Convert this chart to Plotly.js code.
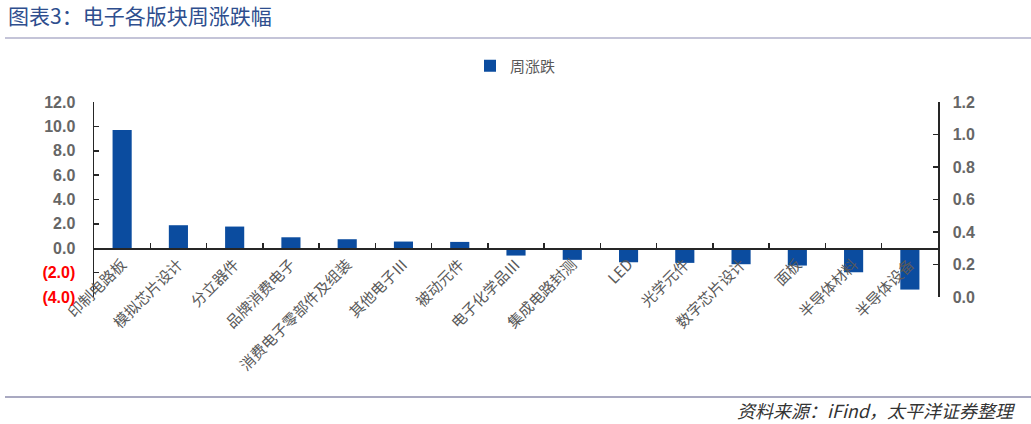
<!DOCTYPE html>
<html>
<head>
<meta charset="utf-8">
<script src="https://cdn.plot.ly/plotly-3.0.1.min.js"></script>
<style>html,body{margin:0;padding:0;background:#fff;}#chart{width:1031px;height:424px;}</style>
</head>
<body>
<div id="chart"></div>
<script>
const categories = ["印制电路板","模拟芯片设计","分立器件","品牌消费电子","消费电子零部件及组装","其他电子Ⅲ","被动元件","电子化学品Ⅲ","集成电路封测","LED","光学元件","数字芯片设计","面板","半导体材料","半导体设备"];
const weeklyChange = [9.7, 1.89, 1.78, 0.90, 0.74, 0.55, 0.52, -0.60, -0.95, -1.15, -1.20, -1.31, -1.42, -1.97, -3.39];
const leftTickVals = [-4, -2, 0, 2, 4, 6, 8, 10, 12];
const leftTickText = ['<span style="color:#ff0000">(4.0)</span>','<span style="color:#ff0000">(2.0)</span>','0.0','2.0','4.0','6.0','8.0','10.0','12.0'];
const seriesName = "周涨跌";
const titleText = "图表3：电子各版块周涨跌幅";
const sourceText = "资料来源：iFind，太平洋证券整理";

const L = 94, R = 93, T = 102, B = 127, W = 1031, H = 424;
const pw = W - L - R, ph = H - T - B;
const px = x => (x - L) / pw;
const py = y => (H - B - y) / ph;

const axisFont = {size: 16, color: '#666666', family: '"Liberation Sans", Arial, sans-serif', weight: 'bold'};

const data = [
  {type: 'bar', x: categories, y: weeklyChange, name: seriesName, marker: {color: '#0b4c9f'}, showlegend: true},
  {type: 'scatter', x: [], y: [], yaxis: 'y2', showlegend: false, hoverinfo: 'skip'}
];

const layout = {
  width: W, height: H,
  margin: {l: L, r: R, t: T, b: B, pad: 0},
  paper_bgcolor: '#fff', plot_bgcolor: '#fff',
  font: {family: '"Noto Sans CJK SC", "Liberation Sans", sans-serif', color: '#595959'},
  title: {text: titleText, x: 8 / W, xref: 'container', xanchor: 'left', y: 1 - 17 / H, yref: 'container', yanchor: 'middle',
    font: {size: 21, color: '#2e4e8e', family: '"Noto Sans CJK SC", sans-serif'}},
  bargap: 0.66,
  showlegend: true,
  legend: {orientation: 'h', x: px(470), xanchor: 'left', y: py(66), yanchor: 'middle',
    font: {size: 15, color: '#595959'}},
  xaxis: {
    type: 'category', anchor: 'free', position: 0.25, domain: [0, 1],
    showline: true, linecolor: '#262626', linewidth: 1.5,
    ticks: 'inside', tickson: 'boundaries', ticklen: 5, tickcolor: '#262626', tickwidth: 1.5,
    tickangle: -45, tickfont: {size: 15, color: '#595959'}, showgrid: false, zeroline: false
  },
  yaxis: {
    range: [-4, 12], tickvals: leftTickVals, ticktext: leftTickText,
    showline: true, linecolor: '#262626', linewidth: 1.5,
    ticks: 'inside', ticklen: 5, tickcolor: '#262626', tickwidth: 1.5, ticklabelstandoff: 14,
    tickfont: axisFont, showgrid: false, zeroline: false
  },
  yaxis2: {
    overlaying: 'y', side: 'right', range: [0, 1.2], dtick: 0.2, tick0: 0, tickformat: '.1f',
    showline: true, linecolor: '#262626', linewidth: 1.5,
    ticks: 'inside', ticklen: 5, tickcolor: '#262626', tickwidth: 1.5, ticklabelstandoff: 10,
    tickfont: axisFont, showgrid: false, zeroline: false
  },
  shapes: [
    {type: 'line', xref: 'paper', yref: 'paper', x0: px(5), x1: px(1031), y0: py(38), y1: py(38), line: {color: '#c4c4d8', width: 2}},
    {type: 'line', xref: 'paper', yref: 'paper', x0: px(5), x1: px(1031), y0: py(397), y1: py(397), line: {color: '#8c8cac', width: 1.5}}
  ],
  annotations: [
    {text: sourceText, xref: 'paper', yref: 'paper', x: px(1018), y: py(410), xanchor: 'right', yanchor: 'middle', showarrow: false,
      font: {size: 18, color: '#333333', style: 'italic'}}
  ]
};

Plotly.newPlot('chart', data, layout, {displayModeBar: false, staticPlot: true});
</script>
</body>
</html>
